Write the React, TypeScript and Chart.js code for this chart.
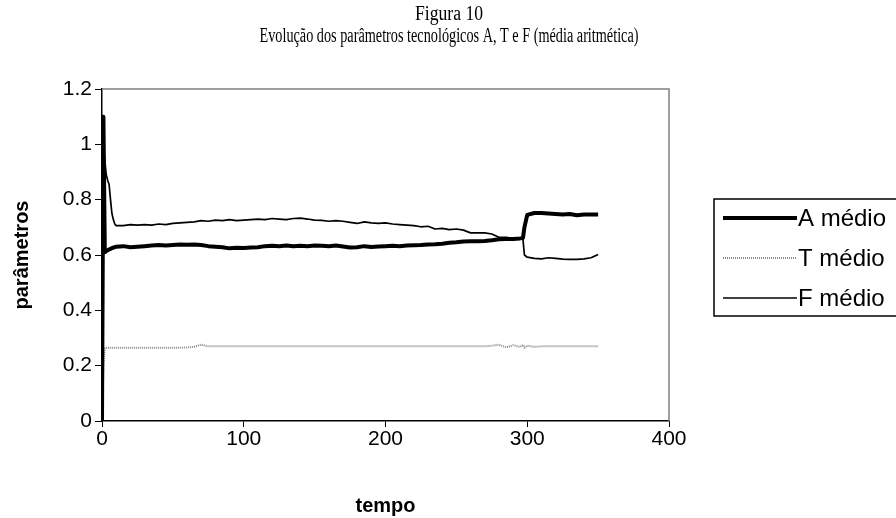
import React, { useEffect, useRef } from 'react';
import { Chart, registerables } from 'chart.js';

Chart.register(...registerables);

const titleLines = ['Figura 10', 'Evolução dos parâmetros tecnológicos A, T e F (média aritmética)'];
const seriesNames = ['A médio', 'T médio', 'F médio'];
const xTicks = [0, 100, 200, 300, 400];
const yTicks = [0, 0.2, 0.4, 0.6, 0.8, 1, 1.2];
const yTickLabels = ['0', '0.2', '0.4', '0.6', '0.8', '1', '1.2'];

const tempo = [
  0, 1, 2, 3, 4, 5, 6, 7, 8, 9, 10,
  15, 20, 25, 30, 35, 40, 45, 50, 55, 60,
  65, 70, 75, 80, 85, 90, 95, 100, 105, 110,
  115, 120, 125, 130, 135, 140, 145, 150, 155, 160,
  165, 170, 175, 180, 185, 190, 195, 200, 205, 210,
  215, 220, 225, 230, 235, 240, 245, 250, 255, 260,
  265, 270, 275, 280, 285, 290, 295, 297, 298, 300,
  305, 310, 315, 320, 325, 330, 335, 340, 345, 350,
];

const aMedio = [
  0, 1.1, 0.61, 0.614, 0.617, 0.62, 0.622, 0.625, 0.627, 0.628, 0.63,
  0.632, 0.628, 0.63, 0.632, 0.634, 0.636, 0.634, 0.636, 0.638, 0.637,
  0.638, 0.636, 0.632, 0.63, 0.628, 0.624, 0.626, 0.625, 0.627, 0.628,
  0.632, 0.633, 0.632, 0.634, 0.632, 0.633, 0.632, 0.634, 0.633, 0.632,
  0.634, 0.631, 0.627, 0.628, 0.632, 0.629, 0.631, 0.632, 0.633, 0.632,
  0.634, 0.635, 0.636, 0.638, 0.639, 0.641, 0.644, 0.646, 0.649, 0.65,
  0.65, 0.651, 0.653, 0.657, 0.658, 0.658, 0.66, 0.662, 0.7, 0.745,
  0.752, 0.752, 0.75, 0.748, 0.746, 0.748, 0.744, 0.746, 0.746, 0.746,
];

const tMedio = [
  0, 0.2, 0.262, 0.264, 0.265, 0.265, 0.265, 0.265, 0.265, 0.265, 0.265,
  0.265, 0.265, 0.265, 0.265, 0.265, 0.265, 0.265, 0.265, 0.265, 0.266,
  0.268, 0.276, 0.27, 0.27, 0.27, 0.27, 0.27, 0.27, 0.27, 0.27,
  0.27, 0.27, 0.27, 0.27, 0.27, 0.27, 0.27, 0.27, 0.27, 0.27,
  0.27, 0.27, 0.27, 0.27, 0.27, 0.27, 0.27, 0.27, 0.27, 0.27,
  0.27, 0.27, 0.27, 0.27, 0.27, 0.27, 0.27, 0.27, 0.27, 0.27,
  0.27, 0.27, 0.272, 0.276, 0.266, 0.274, 0.268, 0.275, 0.265, 0.272,
  0.268, 0.27, 0.27, 0.27, 0.27, 0.27, 0.27, 0.27, 0.27, 0.27,
];

const fMedio = [
  1.1, 0.98, 0.94, 0.89, 0.87, 0.855, 0.8, 0.75, 0.728, 0.712, 0.706,
  0.706, 0.71, 0.708, 0.71, 0.708, 0.712, 0.71, 0.714, 0.716, 0.718,
  0.72, 0.724, 0.722, 0.726, 0.724, 0.728, 0.724, 0.726, 0.728, 0.73,
  0.728, 0.732, 0.73, 0.728, 0.732, 0.733, 0.73, 0.726, 0.725, 0.722,
  0.724, 0.722, 0.718, 0.714, 0.72, 0.716, 0.714, 0.716, 0.712, 0.71,
  0.708, 0.706, 0.702, 0.704, 0.694, 0.696, 0.692, 0.694, 0.69, 0.68,
  0.68, 0.68, 0.676, 0.664, 0.664, 0.66, 0.662, 0.655, 0.6, 0.592,
  0.588, 0.586, 0.59, 0.588, 0.585, 0.584, 0.584, 0.586, 0.59, 0.602,
];

const seriesStyles = [
  { color: '#000000', width: 4, dash: [] as number[] },
  { color: '#8a8a8a', width: 2, dash: [1, 1] },
  { color: '#000000', width: 1.7, dash: [] as number[] },
];

export default function App() {
  const ref = useRef<HTMLCanvasElement>(null);

  useEffect(() => {
    if (!ref.current) return;
    const toPts = (vals: number[]) => tempo.map((t, i) => ({ x: t, y: vals[i] }));
    const allValues = [aMedio, tMedio, fMedio];

    const decor = {
      id: 'decor',
      afterDraw(chart: any) {
        const { ctx, chartArea: ca } = chart;
        ctx.save();
        ctx.strokeStyle = '#808080';
        ctx.lineWidth = 1.5;
        ctx.beginPath();
        ctx.moveTo(ca.left, ca.top);
        ctx.lineTo(ca.right, ca.top);
        ctx.lineTo(ca.right, ca.bottom);
        ctx.stroke();

        ctx.fillStyle = '#000';
        ctx.font = '20px "Liberation Serif"';
        ctx.textBaseline = 'middle';
        ctx.textAlign = 'center';
        const widths = [68, 379];
        const ys = [15, 37];
        titleLines.forEach((s, i) => {
          const w = ctx.measureText(s).width;
          ctx.save();
          ctx.translate(449, ys[i]);
          ctx.scale(widths[i] / w, 1);
          ctx.fillText(s, 0, 0);
          ctx.restore();
        });

        const boxL = 714, boxT = 199, boxB = 316;
        ctx.strokeStyle = '#000';
        ctx.lineWidth = 1.5;
        ctx.strokeRect(boxL, boxT, 200, boxB - boxT);
        const rows = [218, 258, 298];
        ctx.font = '24px "Liberation Sans"';
        ctx.textAlign = 'left';
        seriesNames.forEach((name, i) => {
          const st = seriesStyles[i];
          ctx.strokeStyle = st.color;
          ctx.lineWidth = st.width;
          ctx.setLineDash(st.dash);
          ctx.beginPath();
          ctx.moveTo(723, rows[i]);
          ctx.lineTo(797, rows[i]);
          ctx.stroke();
          ctx.setLineDash([]);
          ctx.fillStyle = '#000';
          ctx.fillText(name, 798, rows[i] + 1);
        });
        ctx.restore();
      },
    };

    const chart = new Chart(ref.current, {
      type: 'line',
      data: {
        datasets: seriesNames.map((name, i) => ({
          label: name,
          data: toPts(allValues[i]),
          borderColor: seriesStyles[i].color,
          borderWidth: seriesStyles[i].width,
          borderDash: seriesStyles[i].dash,
          borderJoinStyle: 'round' as const,
          pointRadius: 0,
          tension: 0,
          fill: false,
        })),
      },
      options: {
        animation: false,
        responsive: false,
        layout: { padding: { top: 89, right: 227, bottom: 0, left: 0 } },
        plugins: {
          legend: { display: false },
          tooltip: { enabled: false },
          title: { display: false },
        },
        scales: {
          x: {
            type: 'linear',
            min: 0,
            max: 400,
            afterBuildTicks: (s: any) => { s.ticks = xTicks.map((v) => ({ value: v })); },
            afterFit: (s: any) => { s.height = 97; },
            ticks: {
              color: '#000',
              font: { family: 'Liberation Sans', size: 21 },
              padding: 0,
              maxRotation: 0,
              autoSkip: false,
            },
            grid: { drawOnChartArea: false, tickLength: 6, color: '#000', lineWidth: 1 },
            border: { color: '#000', width: 1.5 },
            title: {
              display: true,
              text: 'tempo',
              color: '#000',
              font: { family: 'Liberation Sans', size: 20, weight: 'bold' },
              padding: { top: 0, bottom: 0 },
            },
          },
          y: {
            type: 'linear',
            min: 0,
            max: 1.2,
            afterBuildTicks: (s: any) => { s.ticks = yTicks.map((v) => ({ value: v })); },
            afterFit: (s: any) => { s.width = 102; },
            ticks: {
              color: '#000',
              font: { family: 'Liberation Sans', size: 21 },
              padding: 3,
              callback: (_v: any, i: number) => yTickLabels[i],
            },
            grid: { drawOnChartArea: false, tickLength: 7, color: '#000', lineWidth: 1 },
            border: { color: '#000', width: 1.5 },
            title: {
              display: true,
              text: 'parâmetros',
              color: '#000',
              font: { family: 'Liberation Sans', size: 20, weight: 'bold' },
              padding: { top: 10, bottom: 0 },
            },
          },
        },
      },
      plugins: [decor],
    });
    return () => chart.destroy();
  }, []);

  return (
    <div style={{ position: 'absolute', left: 0, top: 0, width: 896, height: 518, background: '#fff' }}>
      <canvas ref={ref} width={896} height={518} style={{ display: 'block' }} />
    </div>
  );
}
